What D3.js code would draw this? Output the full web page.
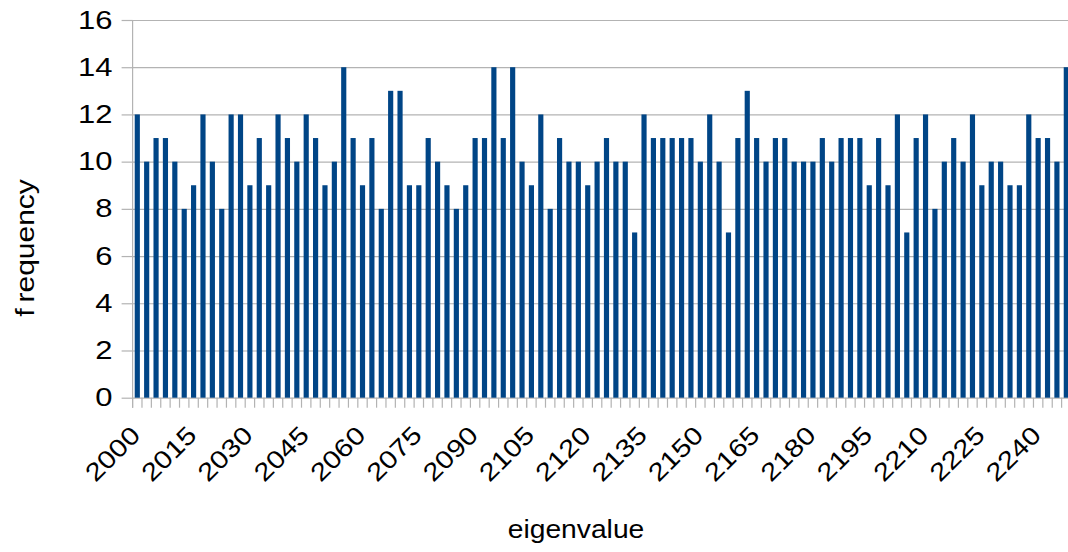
<!DOCTYPE html>
<html>
<head>
<meta charset="utf-8">
<script src="https://cdn.jsdelivr.net/npm/d3@7"></script>
<style>
  html, body { margin: 0; padding: 0; background: #fff; overflow: hidden; }
  svg { display: block; }
  text { font-family: "Liberation Sans", Arial, sans-serif; fill: #000; }
</style>
</head>
<body>
<svg id="chart" width="1068" height="552"></svg>
<script>
// Eigenvalue bins (bin start) and how many eigenvalues fall in each
const categories = [
  2000, 2002.5, 2005, 2007.5, 2010, 2012.5, 2015, 2017.5, 2020, 2022.5,
  2025, 2027.5, 2030, 2032.5, 2035, 2037.5, 2040, 2042.5, 2045, 2047.5,
  2050, 2052.5, 2055, 2057.5, 2060, 2062.5, 2065, 2067.5, 2070, 2072.5,
  2075, 2077.5, 2080, 2082.5, 2085, 2087.5, 2090, 2092.5, 2095, 2097.5,
  2100, 2102.5, 2105, 2107.5, 2110, 2112.5, 2115, 2117.5, 2120, 2122.5,
  2125, 2127.5, 2130, 2132.5, 2135, 2137.5, 2140, 2142.5, 2145, 2147.5,
  2150, 2152.5, 2155, 2157.5, 2160, 2162.5, 2165, 2167.5, 2170, 2172.5,
  2175, 2177.5, 2180, 2182.5, 2185, 2187.5, 2190, 2192.5, 2195, 2197.5,
  2200, 2202.5, 2205, 2207.5, 2210, 2212.5, 2215, 2217.5, 2220, 2222.5,
  2225, 2227.5, 2230, 2232.5, 2235, 2237.5, 2240, 2242.5, 2245, 2247.5
];

const frequency = [
  12, 10, 11, 11, 10, 8, 9, 12, 10, 8,
  12, 12, 9, 11, 9, 12, 11, 10, 12, 11,
  9, 10, 14, 11, 9, 11, 8, 13, 13, 9,
  9, 11, 10, 9, 8, 9, 11, 11, 14, 11,
  14, 10, 9, 12, 8, 11, 10, 10, 9, 10,
  11, 10, 10, 7, 12, 11, 11, 11, 11, 11,
  10, 12, 10, 7, 11, 13, 11, 10, 11, 11,
  10, 10, 10, 11, 10, 11, 11, 11, 9, 11,
  9, 12, 7, 11, 12, 8, 10, 11, 10, 12,
  9, 10, 10, 9, 9, 12, 11, 11, 10, 14
];

const xTickLabels = [2000, 2015, 2030, 2045, 2060, 2075, 2090, 2105, 2120,
                     2135, 2150, 2165, 2180, 2195, 2210, 2225, 2240];
const yTickValues = [0, 2, 4, 6, 8, 10, 12, 14, 16];

const svg = d3.select("#chart");
const plotLeft = 132.6, plotRight = 1071, plotTop = 20, plotBottom = 397.7;
const gridColor = "#b3b3b3";
const barColor = "#004586";

const x = d3.scaleBand()
  .domain(categories)
  .range([plotLeft, plotRight])
  .paddingInner(0.45)
  .paddingOuter(0.225);

const y = d3.scaleLinear().domain([0, 16]).range([plotBottom, plotTop]);

// Horizontal gridlines and y-axis
const yAxis = d3.axisLeft(y)
  .tickValues(yTickValues)
  .tickSize(-(plotRight - plotLeft))
  .tickPadding(20)
  .tickFormat(d3.format("d"));

const yg = svg.append("g")
  .attr("transform", `translate(${plotLeft},0)`)
  .call(yAxis);
yg.select(".domain").remove();
yg.selectAll(".tick line").attr("stroke", gridColor).attr("stroke-width", 1.2);
yg.selectAll(".tick").append("line")
  .attr("x1", -11).attr("x2", 0)
  .attr("stroke", gridColor).attr("stroke-width", 1.2);
// wide numerals: stretch horizontally around the label's right edge
yg.selectAll(".tick text")
  .attr("x", 0)
  .attr("transform", "translate(-20,0) scale(1.24,1)")
  .style("font-size", "25px")
  .style("font-family", "'Liberation Sans', Arial, sans-serif")
  .attr("fill", "#000");

// Vertical axis line
svg.append("line")
  .attr("x1", plotLeft).attr("x2", plotLeft)
  .attr("y1", plotTop).attr("y2", plotBottom + 10)
  .attr("stroke", gridColor).attr("stroke-width", 1.2);

// Bars
svg.append("g")
  .selectAll("rect")
  .data(categories.map((c, i) => ({ c, v: frequency[i] })))
  .join("rect")
  .attr("x", d => x(d.c))
  .attr("width", x.bandwidth())
  .attr("y", d => y(d.v))
  .attr("height", d => y(0) - y(d.v))
  .attr("fill", barColor);

// Category boundary ticks below the baseline
const gap = x.step() - x.bandwidth();
const boundaries = categories.map(c => x(c) - gap / 2)
  .concat([x(categories[categories.length - 1]) + x.bandwidth() + gap / 2]);
svg.append("g")
  .selectAll("line")
  .data(boundaries)
  .join("line")
  .attr("x1", d => d).attr("x2", d => d)
  .attr("y1", plotBottom).attr("y2", plotBottom + 10)
  .attr("stroke", gridColor).attr("stroke-width", 1.2);

// Rotated category labels
svg.append("g")
  .selectAll("text")
  .data(xTickLabels)
  .join("text")
  .attr("transform", d => {
    const cx = x(d) + x.bandwidth() / 2 + 4.5;
    return `translate(${cx},${plotBottom + 39}) rotate(-45) scale(1.18,1)`;
  })
  .attr("text-anchor", "end")
  .style("font-size", "25px")
  .text(d => d);

// Axis titles
svg.append("text")
  .attr("transform", "translate(576,538) scale(1.13,1)")
  .attr("text-anchor", "middle")
  .style("font-size", "25px")
  .text("eigenvalue");

const yTitle = svg.append("text")
  .attr("transform", "translate(34,248) rotate(-90) scale(1.2,1)")
  .attr("text-anchor", "middle")
  .style("font-size", "25px");
yTitle.append("tspan").text("f");
yTitle.append("tspan").attr("dx", 5).text("requency");
</script>
</body>
</html>
